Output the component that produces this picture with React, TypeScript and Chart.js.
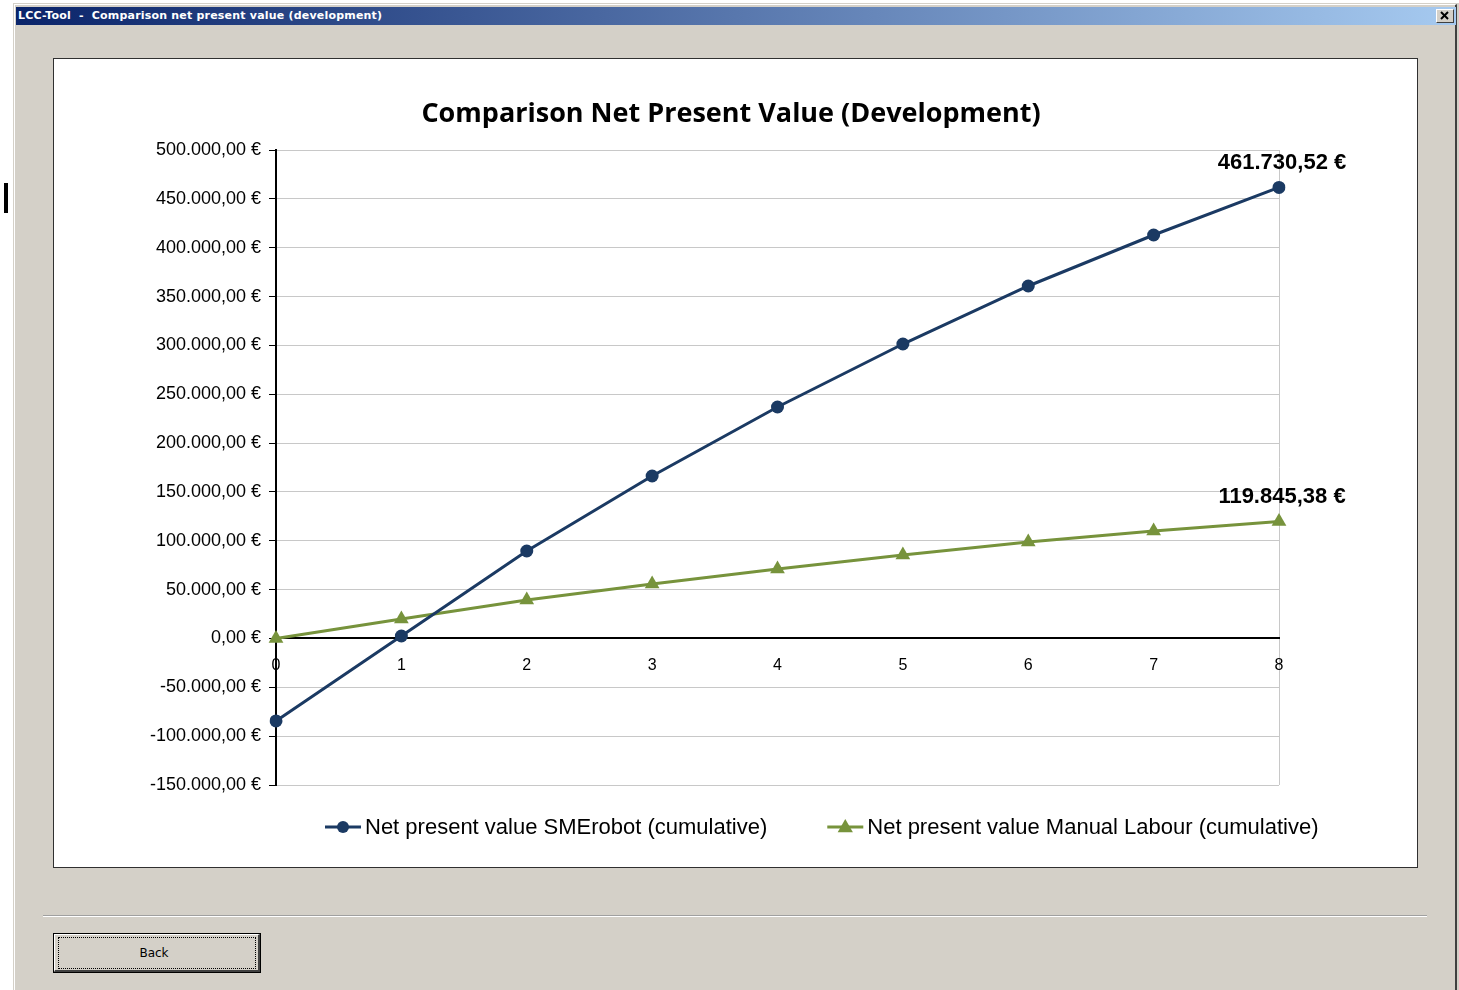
import React, { useEffect, useRef } from "react";
import { Chart, registerables } from "chart.js";

Chart.register(...registerables);

// ---- data ----
const years = ["0", "1", "2", "3", "4", "5", "6", "7", "8"];
const smeRobot = [-84400, 2500, 89500, 166300, 236900, 301400, 360800, 413000, 461730.52];
const manualLabour = [0, 20000, 39400, 55800, 71100, 85500, 98800, 110000, 119845.38];
const seriesNames = [
  "Net present value SMErobot (cumulative)",
  "Net present value Manual Labour (cumulative)",
];
const yMin = -150000;
const yMax = 500000;
const yStep = 50000;
const chartTitle = "Comparison Net Present Value (Development)";
const windowTitle = "LCC-Tool  -  Comparison net present value (development)";

const NAVY = "#1B3A63";
const GREEN = "#77933C";
const FONT = '"Liberation Sans", Arial, sans-serif';

function fmtEuro(v: number): string {
  const s = Math.abs(v).toFixed(2);
  const [i, d] = s.split(".");
  const ii = i.replace(/\B(?=(\d{3})+(?!\d))/g, ".");
  return (v < 0 ? "-" : "") + ii + "," + d + " €";
}

function drawMarker(ctx: CanvasRenderingContext2D, style: string, x: number, y: number, r: number, color: string) {
  ctx.fillStyle = color;
  ctx.beginPath();
  if (style === "triangle") {
    ctx.moveTo(x, y - r);
    ctx.lineTo(x + r * 0.95, y + r * 0.65);
    ctx.lineTo(x - r * 0.95, y + r * 0.65);
    ctx.closePath();
  } else {
    ctx.arc(x, y, r, 0, Math.PI * 2);
  }
  ctx.fill();
}

const titlePlugin = {
  id: "panelTitle",
  afterDraw(chart: any) {
    const ctx = chart.ctx;
    ctx.save();
    ctx.font = 'bold 27px "Open Sans", sans-serif';
    ctx.fillStyle = "#000";
    ctx.textAlign = "center";
    ctx.textBaseline = "middle";
    ctx.fillText(chartTitle, 677, 55);
    ctx.restore();
  },
};

const endLabelPlugin = {
  id: "endLabels",
  afterDatasetsDraw(chart: any) {
    const ctx = chart.ctx;
    ctx.save();
    ctx.font = `bold 22px ${FONT}`;
    ctx.fillStyle = "#000";
    ctx.textAlign = "center";
    ctx.textBaseline = "middle";
    chart.data.datasets.forEach((ds: any, i: number) => {
      const meta = chart.getDatasetMeta(i);
      const last = meta.data[meta.data.length - 1];
      const v = ds.data[ds.data.length - 1];
      ctx.fillText(fmtEuro(v), last.x + 3, last.y - 24);
    });
    ctx.restore();
  },
};

const customLegendPlugin = {
  id: "customLegend",
  afterDraw(chart: any) {
    const ctx = chart.ctx;
    ctx.save();
    ctx.font = `22px ${FONT}`;
    ctx.textBaseline = "middle";
    ctx.textAlign = "left";
    let x = 271;
    const y = 768;
    chart.data.datasets.forEach((ds: any) => {
      ctx.strokeStyle = ds.borderColor;
      ctx.lineWidth = 3;
      ctx.beginPath();
      ctx.moveTo(x, y);
      ctx.lineTo(x + 36, y);
      ctx.stroke();
      drawMarker(ctx, ds.pointStyle, x + 18, y, ds.pointStyle === "triangle" ? 8 : 6, ds.borderColor);
      ctx.fillStyle = "#000";
      ctx.fillText(ds.label, x + 40, y + 1);
      const w = ctx.measureText(ds.label).width;
      x = x + 40 + w + 60;
    });
    ctx.restore();
  },
};

function NpvChart() {
  const ref = useRef<HTMLCanvasElement | null>(null);
  useEffect(() => {
    if (!ref.current) return;
    const chart = new Chart(ref.current, {
      type: "line",
      data: {
        labels: years,
        datasets: [
          {
            label: seriesNames[0],
            data: smeRobot,
            borderColor: NAVY,
            backgroundColor: NAVY,
            borderWidth: 3,
            pointStyle: "circle",
            pointRadius: 6.5,
            pointBorderWidth: 0,
            pointBackgroundColor: NAVY,
            tension: 0,
          },
          {
            label: seriesNames[1],
            data: manualLabour,
            borderColor: GREEN,
            backgroundColor: GREEN,
            borderWidth: 3,
            pointStyle: "triangle",
            pointRadius: 8.5,
            pointBorderWidth: 0,
            pointBackgroundColor: GREEN,
            tension: 0,
          },
        ],
      },
      options: {
        responsive: false,
        animation: false,
        devicePixelRatio: 1,
        layout: { padding: { left: 0, right: 138, top: 91, bottom: 82 } },
        plugins: {
          legend: { display: false },
          tooltip: { enabled: false },
          title: { display: false },
        },
        scales: {
          x: {
            type: "category",
            position: { y: 0 } as any,
            offset: false,
            grid: {
              display: true,
              drawTicks: false,
              color: (c: any) => (c.index === years.length - 1 ? "#C8C8C8" : "rgba(0,0,0,0)"),
              lineWidth: 1,
            },
            border: { display: true, color: "#000", width: 2 },
            ticks: {
              color: "#000",
              font: { family: FONT, size: 16 },
              padding: 18,
              maxRotation: 0,
            },
          },
          y: {
            type: "linear",
            min: yMin,
            max: yMax,
            afterFit: (scale: any) => {
              scale.width = 222;
            },
            grid: {
              color: (c: any) => (c.tick && c.tick.value === 0 ? "#000" : "#C8C8C8"),
              lineWidth: 1,
              tickColor: "#000",
              tickLength: 7,
              drawTicks: true,
            },
            border: { display: true, color: "#000", width: 2 },
            ticks: {
              stepSize: yStep,
              color: "#000",
              font: { family: FONT, size: 18 },
              padding: 8,
              callback: (v: any) => fmtEuro(Number(v)),
            },
          },
        },
      },
      plugins: [titlePlugin, endLabelPlugin, customLegendPlugin],
    } as any);
    return () => chart.destroy();
  }, []);
  return <canvas ref={ref} width={1363} height={808} style={{ display: "block" }} />;
}

export default function App() {
  return (
    <div
      style={{
        position: "fixed",
        left: 0,
        top: 0,
        width: 1459,
        height: 990,
        background: "#fff",
        overflow: "hidden",
      }}
    >
      {/* stray artifact at left */}
      <div style={{ position: "absolute", left: 4, top: 183, width: 4, height: 30, background: "#000" }} />
      {/* window */}
      <div
        style={{
          position: "absolute",
          left: 13,
          top: 3,
          width: 1446,
          height: 1000,
          background: "#D4D0C8",
          borderLeft: "1px solid #D4D0C8",
          borderTop: "1px solid #D4D0C8",
          boxSizing: "border-box",
        }}
      >
        <div
          style={{
            position: "absolute",
            left: 0,
            top: 0,
            width: 1443,
            height: 1000,
            borderLeft: "1px solid #FFFFFF",
            borderTop: "1px solid #FFFFFF",
            borderRight: "2px solid #404040",
            boxSizing: "border-box",
          }}
        />
      </div>
      {/* title bar */}
      <div
        style={{
          position: "absolute",
          left: 16,
          top: 7,
          width: 1440,
          height: 18,
          background: "linear-gradient(to right, #0A246A, #A6CAF0)",
        }}
      >
        <span
          style={{
            position: "absolute",
            left: 2,
            top: 2,
            color: "#fff",
            fontFamily: '"DejaVu Sans", Tahoma, sans-serif',
            fontWeight: "bold",
            fontSize: 11,
            letterSpacing: "0.2px",
            whiteSpace: "pre",
            lineHeight: "14px",
          }}
        >
          {windowTitle}
        </span>
        {/* close button */}
        <div
          style={{
            position: "absolute",
            left: 1420,
            top: 2,
            width: 18,
            height: 14,
            background: "#D4D0C8",
            borderTop: "1px solid #fff",
            borderLeft: "1px solid #fff",
            borderRight: "1px solid #404040",
            borderBottom: "1px solid #404040",
            boxSizing: "border-box",
          }}
        >
          <svg width={16} height={12} style={{ position: "absolute", left: 0, top: 0 }}>
            <line x1={4} y1={2} x2={11} y2={9} stroke="#000" strokeWidth={2} />
            <line x1={11} y1={2} x2={4} y2={9} stroke="#000" strokeWidth={2} />
          </svg>
        </div>
      </div>
      {/* chart panel */}
      <div
        style={{
          position: "absolute",
          left: 53,
          top: 58,
          width: 1365,
          height: 810,
          background: "#fff",
          border: "1px solid #303030",
          boxSizing: "border-box",
        }}
      >
        <NpvChart />
      </div>
      {/* separator */}
      <div style={{ position: "absolute", left: 43, top: 915, width: 1384, height: 1, background: "#A0A0A0" }} />
      <div style={{ position: "absolute", left: 43, top: 916, width: 1384, height: 1, background: "#FFFFFF" }} />
      {/* back button */}
      <div
        style={{
          position: "absolute",
          left: 53,
          top: 933,
          width: 208,
          height: 40,
          border: "1px solid #000",
          boxSizing: "border-box",
          background: "#D4D0C8",
        }}
      >
        <div
          style={{
            position: "absolute",
            left: 0,
            top: 0,
            right: 0,
            bottom: 0,
            borderTop: "1px solid #fff",
            borderLeft: "1px solid #fff",
            borderRight: "2px solid #404040",
            borderBottom: "2px solid #404040",
          }}
        />
        <div
          style={{
            position: "absolute",
            left: 4,
            top: 3,
            right: 4,
            bottom: 3,
            border: "1px dotted #000",
          }}
        />
        <div
          style={{
            position: "absolute",
            left: 0,
            top: 0,
            width: "100%",
            height: "100%",
            display: "flex",
            alignItems: "center",
            justifyContent: "center",
            paddingRight: 6,
            boxSizing: "border-box",
            fontFamily: '"DejaVu Sans", Tahoma, sans-serif',
            fontSize: 12,
            color: "#000",
          }}
        >
          Back
        </div>
      </div>
    </div>
  );
}
